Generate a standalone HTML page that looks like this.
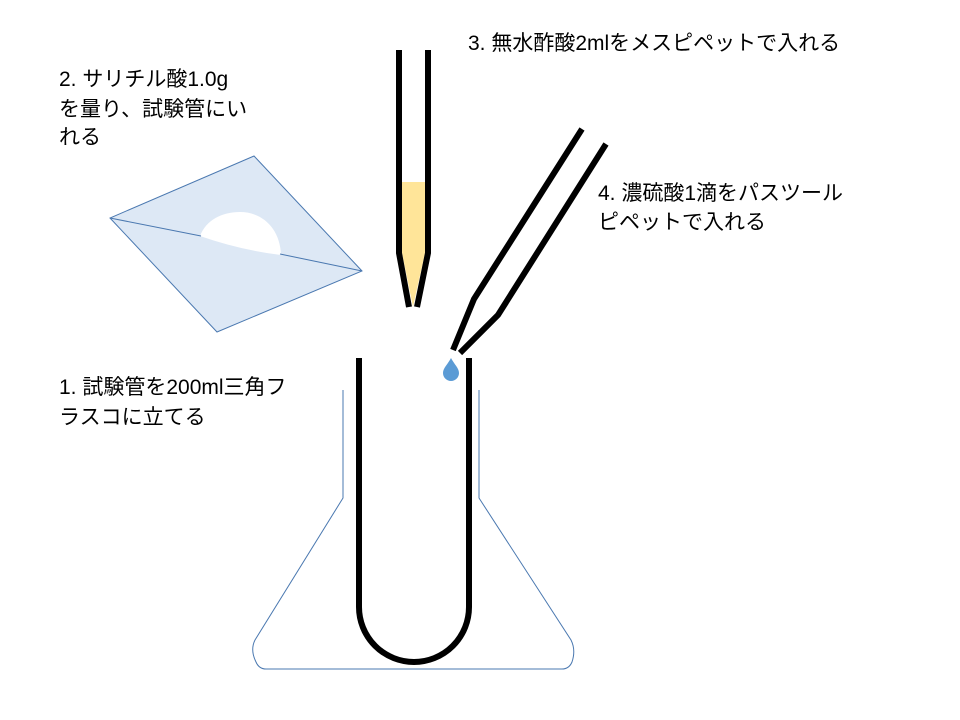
<!DOCTYPE html>
<html><head><meta charset="utf-8"><style>
html,body{margin:0;padding:0;background:#fff;}
svg{display:block;}
text{font-family:"Liberation Sans","Noto Sans CJK JP",sans-serif;font-size:21px;fill:#000;}
</style></head><body>
<svg width="960" height="720" viewBox="0 0 960 720" xmlns="http://www.w3.org/2000/svg">
<!-- paper -->
<polygon points="254,156 362,271 217,332 110,218" fill="#dde8f5" stroke="#4a78b0" stroke-width="1"/>
<path d="M200,236 C206,220 222,212 240,212 C262,212 280,228 281,255 Q240,250 200,236 Z" fill="#fff"/>
<line x1="110" y1="218" x2="201" y2="236" stroke="#4a78b0" stroke-width="1"/>
<line x1="280" y1="254" x2="362" y2="271" stroke="#4a78b0" stroke-width="1"/>
<!-- mes pipette liquid -->
<polygon points="402,182 425,182 425,253 413,307 402,253" fill="#ffe599"/>
<polyline points="399,50 399,253 409,307" fill="none" stroke="#000" stroke-width="6"/>
<polyline points="428,50 428,253 417,307" fill="none" stroke="#000" stroke-width="6"/>
<!-- pasteur -->
<polyline points="582,129 474,299 453,350" fill="none" stroke="#000" stroke-width="6"/>
<polyline points="606,144 498,315 460,353" fill="none" stroke="#000" stroke-width="6"/>
<!-- drop -->
<path d="M451,358 C454,364 459,368 459,373 A8,8 0 0 1 443,373 C443,368 448,364 451,358 Z" fill="#5b9bd5"/>
<!-- flask -->
<path d="M343,390 L343,498 L255,640 Q250,650 256,662 Q259,669 266,669 L562,669 Q569,669 572,662 Q576,650 571,640 L479,498 L479,390" fill="none" stroke="#4a78b0" stroke-width="1"/>
<!-- test tube -->
<path d="M359,358 L359,607 A55,55 0 0 0 469,607 L469,358" fill="none" stroke="#000" stroke-width="6"/>
<!-- texts -->
<text x="59" y="86">2. サリチル酸1.0g</text>
<text x="59" y="116">を量り、試験管にい</text>
<text x="59" y="144">れる</text>
<text x="468" y="50">3. 無水酢酸2mlをメスピペットで入れる</text>
<text x="598" y="200">4. 濃硫酸1滴をパスツール</text>
<text x="598" y="229">ピペットで入れる</text>
<text x="59" y="394">1. 試験管を200ml三角フ</text>
<text x="59" y="424">ラスコに立てる</text>
</svg>
</body></html>
